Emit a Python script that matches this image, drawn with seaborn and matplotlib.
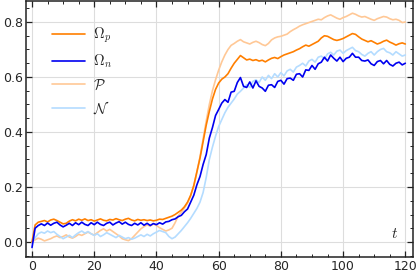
import numpy as np
import pandas as pd
import seaborn as sns
import matplotlib.pyplot as plt
from matplotlib.ticker import MultipleLocator

# time axis (one sample per unit of t)
t = np.arange(0, 121)

# values
omega_p = [
    0.000, 0.062, 0.072, 0.075, 0.078, 0.073, 0.080, 0.083, 0.078, 0.072,
    0.066, 0.068, 0.076, 0.081, 0.077, 0.083, 0.079, 0.084, 0.078, 0.081,
    0.076, 0.080, 0.084, 0.079, 0.077, 0.082, 0.080, 0.085, 0.081, 0.078,
    0.083, 0.086, 0.080, 0.077, 0.082, 0.079, 0.081, 0.078, 0.080, 0.077,
    0.079, 0.083, 0.082, 0.086, 0.090, 0.094, 0.100, 0.108, 0.116, 0.128,
    0.145, 0.170, 0.205, 0.255, 0.305, 0.365, 0.425, 0.475, 0.520, 0.555,
    0.578, 0.592, 0.600, 0.612, 0.632, 0.650, 0.664, 0.678, 0.670, 0.662,
    0.665, 0.660, 0.663, 0.658, 0.661, 0.655, 0.662, 0.668, 0.671, 0.667,
    0.674, 0.680, 0.684, 0.688, 0.692, 0.698, 0.703, 0.710, 0.716, 0.712,
    0.718, 0.724, 0.730, 0.742, 0.750, 0.748, 0.742, 0.736, 0.733, 0.736,
    0.740, 0.746, 0.752, 0.758, 0.755, 0.746, 0.738, 0.733, 0.728, 0.732,
    0.726, 0.720, 0.724, 0.730, 0.734, 0.727, 0.722, 0.716, 0.721, 0.724,
    0.720,
]

omega_n = [
    -0.020, 0.050, 0.060, 0.066, 0.060, 0.069, 0.061, 0.068, 0.072, 0.062,
    0.055, 0.061, 0.068, 0.060, 0.070, 0.063, 0.072, 0.064, 0.060, 0.070,
    0.063, 0.072, 0.064, 0.060, 0.068, 0.072, 0.062, 0.069, 0.074, 0.065,
    0.072, 0.064, 0.060, 0.068, 0.062, 0.070, 0.061, 0.068, 0.060, 0.067,
    0.063, 0.070, 0.065, 0.073, 0.075, 0.081, 0.084, 0.092, 0.097, 0.110,
    0.120, 0.145, 0.170, 0.208, 0.238, 0.282, 0.318, 0.378, 0.416, 0.460,
    0.482, 0.505, 0.518, 0.508, 0.545, 0.548, 0.580, 0.598, 0.566, 0.562,
    0.582, 0.560, 0.586, 0.566, 0.560, 0.548, 0.570, 0.572, 0.562, 0.584,
    0.588, 0.574, 0.594, 0.596, 0.588, 0.610, 0.612, 0.600, 0.626, 0.624,
    0.642, 0.628, 0.648, 0.654, 0.672, 0.658, 0.680, 0.668, 0.658, 0.672,
    0.656, 0.668, 0.672, 0.686, 0.672, 0.672, 0.660, 0.658, 0.662, 0.648,
    0.642, 0.656, 0.660, 0.648, 0.660, 0.646, 0.640, 0.650, 0.654, 0.644,
    0.650,
]

cal_p = [
    0.000, 0.008, 0.014, 0.010, 0.004, 0.008, 0.012, 0.018, 0.022, 0.016,
    0.020, 0.026, 0.018, 0.014, 0.020, 0.028, 0.024, 0.030, 0.036, 0.030,
    0.025, 0.034, 0.042, 0.048, 0.040, 0.046, 0.038, 0.030, 0.022, 0.012,
    0.008, 0.005, 0.012, 0.024, 0.036, 0.048, 0.056, 0.062, 0.058, 0.066,
    0.060, 0.052, 0.046, 0.040, 0.044, 0.050, 0.070, 0.095, 0.108, 0.124,
    0.142, 0.168, 0.205, 0.255, 0.310, 0.375, 0.440, 0.500, 0.550, 0.590,
    0.625, 0.655, 0.680, 0.700, 0.715, 0.722, 0.730, 0.736, 0.728, 0.724,
    0.720, 0.726, 0.730, 0.725, 0.718, 0.714, 0.722, 0.735, 0.742, 0.746,
    0.748, 0.752, 0.756, 0.765, 0.772, 0.778, 0.785, 0.790, 0.794, 0.798,
    0.802, 0.806, 0.810, 0.808, 0.816, 0.822, 0.826, 0.820, 0.814, 0.810,
    0.816, 0.820, 0.826, 0.832, 0.828, 0.822, 0.818, 0.820, 0.815, 0.810,
    0.806, 0.812, 0.816, 0.820, 0.818, 0.812, 0.808, 0.810, 0.806, 0.798,
    0.800,
]

cal_n = [
    0.000, 0.015, 0.030, 0.036, 0.032, 0.040, 0.034, 0.038, 0.028, 0.020,
    0.012, 0.018, 0.024, 0.016, 0.026, 0.034, 0.040, 0.032, 0.038, 0.030,
    0.024, 0.030, 0.020, 0.026, 0.034, 0.028, 0.022, 0.016, 0.024, 0.018,
    0.012, 0.016, 0.010, 0.014, 0.020, 0.026, 0.020, 0.028, 0.022, 0.030,
    0.036, 0.042, 0.038, 0.034, 0.020, 0.012, 0.018, 0.030, 0.042, 0.056,
    0.070, 0.086, 0.104, 0.122, 0.145, 0.180, 0.235, 0.300, 0.345, 0.385,
    0.420, 0.445, 0.470, 0.490, 0.505, 0.520, 0.538, 0.548, 0.560, 0.572,
    0.562, 0.584, 0.590, 0.580, 0.600, 0.588, 0.606, 0.594, 0.612, 0.600,
    0.616, 0.604, 0.622, 0.628, 0.618, 0.636, 0.642, 0.650, 0.640, 0.658,
    0.664, 0.654, 0.672, 0.676, 0.666, 0.684, 0.690, 0.680, 0.694, 0.698,
    0.686, 0.696, 0.702, 0.708, 0.696, 0.692, 0.682, 0.676, 0.686, 0.692,
    0.680, 0.692, 0.700, 0.704, 0.692, 0.688, 0.680, 0.692, 0.684, 0.676,
    0.680,
]

labels = [r'$\Omega_p$', r'$\Omega_n$', r'$\mathcal{P}$', r'$\mathcal{N}$']
colors = ['#ff7f00', '#0000f0', '#ffc896', '#b4dcff']

sns.set_style('ticks')
plt.rcParams['font.family'] = ['DejaVu Sans']
plt.rcParams['mathtext.fontset'] = 'cm'

fig = plt.figure(figsize=(4.16, 2.75), dpi=100)
ax = fig.add_axes([0.062, 0.065, 0.931, 0.930])

series = [omega_p, omega_n, cal_p, cal_n]
zorders = [4, 5, 2, 3]
for vals, lab, col, z in zip(series, labels, colors, zorders):
    sns.lineplot(x=t, y=vals, ax=ax, color=col, lw=1.2, label=lab, zorder=z)

handles, labs = ax.get_legend_handles_labels()
ax.legend(handles, labs, loc='upper left', bbox_to_anchor=(0.035, 0.955),
          frameon=False, fontsize=10.5, handlelength=2.2, labelspacing=0.5,
          handletextpad=0.6)

ax.set_xlim(-2, 122.5)
ax.set_ylim(-0.055, 0.875)
ax.xaxis.set_major_locator(MultipleLocator(20))
ax.xaxis.set_minor_locator(MultipleLocator(5))
ax.yaxis.set_major_locator(MultipleLocator(0.2))
ax.yaxis.set_minor_locator(MultipleLocator(0.05))
ax.yaxis.set_major_formatter(plt.FuncFormatter(lambda v, p: f'{v:.1f}'))
ax.tick_params(which='both', direction='in', top=True, right=True,
               labelsize=9, color='#222222', pad=2)
ax.tick_params(which='major', length=4, width=0.9)
ax.tick_params(which='minor', length=2.5, width=0.7)
for s in ax.spines.values():
    s.set_linewidth(1.1)
    s.set_color('#222222')
ax.grid(True, which='major', color='#dddddd', lw=0.8)
ax.set_axisbelow(True)

ax.text(116.5, 0.005, r'$t$', fontsize=11, ha='center', va='bottom')

fig.savefig('out.png', dpi=100)
